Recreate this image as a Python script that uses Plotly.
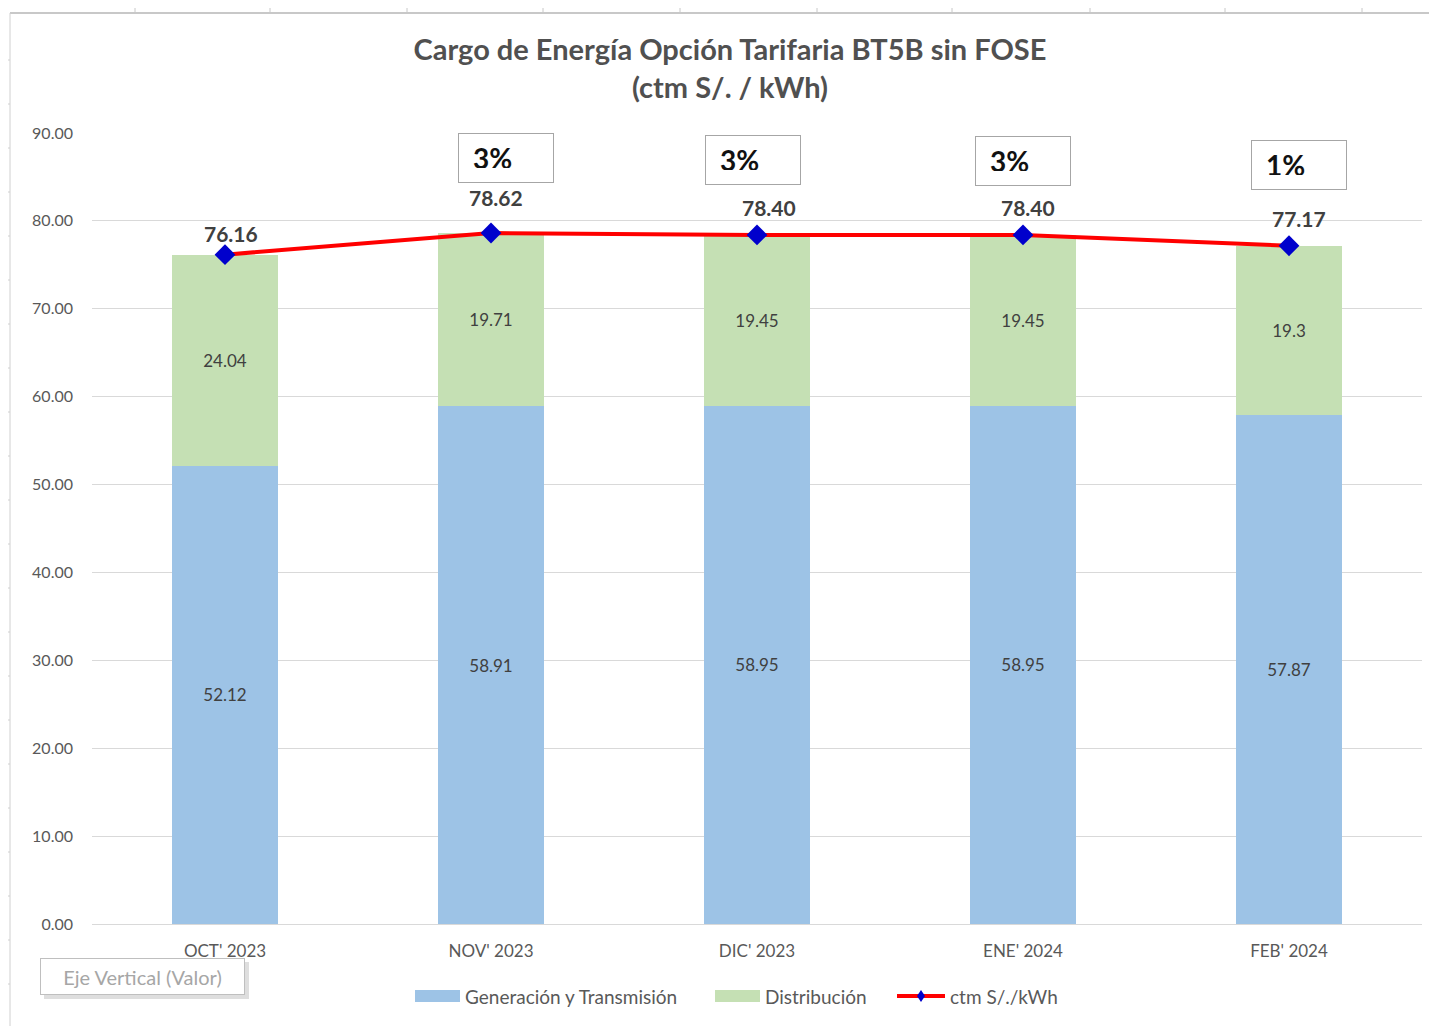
import plotly.graph_objects as go

categories = ["OCT' 2023", "NOV' 2023", "DIC' 2023", "ENE' 2024", "FEB' 2024"]
generacion = [52.12, 58.91, 58.95, 58.95, 57.87]
distribucion = [24.04, 19.71, 19.45, 19.45, 19.3]
total = [76.16, 78.62, 78.40, 78.40, 77.17]
pct_categories = ["NOV' 2023", "DIC' 2023", "ENE' 2024", "FEB' 2024"]
pct_labels = ["3%", "3%", "3%", "1%"]
y_ticks = [0, 10, 20, 30, 40, 50, 60, 70, 80, 90]
legend_names = ["Generación y Transmisión", "Distribución", "ctm S/./kWh"]

# page offset (body margin) and target geometry in screen pixels
OFF = 8
SW, SH = 1437, 1026
W, H = SW - OFF, SH - OFF
L, R, T, B = 92, 1422, 133, 924

def px(xs):
    return (xs - L) / (R - L)

def py(ys):
    return (B - ys) / (B - T)

FONT = "Lato"
GEN_C, DIS_C, LINE_C, MARK_C = "#9DC3E6", "#C5E0B4", "#FF0000", "#0000CC"

fig = go.Figure()
fig.add_trace(go.Bar(
    x=categories, y=generacion, name=legend_names[0],
    marker=dict(color=GEN_C, line=dict(width=0)),
    text=[str(v) for v in generacion], texttemplate="%{text}",
    textposition="inside", insidetextanchor="middle",
    textfont=dict(family=FONT, size=17, color="#404040"), textangle=0,
))
fig.add_trace(go.Bar(
    x=categories, y=distribucion, name=legend_names[1],
    marker=dict(color=DIS_C, line=dict(width=0)),
    text=[str(v) for v in distribucion], texttemplate="%{text}",
    textposition="inside", insidetextanchor="middle",
    textfont=dict(family=FONT, size=17, color="#404040"), textangle=0,
))
fig.add_trace(go.Scatter(
    x=categories, y=total, name=legend_names[2], mode="lines+markers",
    line=dict(color=LINE_C, width=4),
    marker=dict(symbol="diamond", size=16, color=MARK_C),
))

annotations = []
# line value labels (per-point offsets mimic the reference placement)
lab_dx = [6, 5, 12, 5, 10]
lab_dy = [21, 36, 27, 27, 27]
for c, t, dx, dy in zip(categories, total, lab_dx, lab_dy):
    annotations.append(dict(
        x=c, y=t, xref="x", yref="y", text=f"{t:.2f}", showarrow=False,
        xshift=dx, yshift=dy, yanchor="middle",
        font=dict(family=FONT, size=21, color="#404040", weight="bold"),
    ))
# percentage boxes
box_dx = [15, -4, 0, 10]
box_dy = [75, 75, 74, 81]
for c, lab, t, dx, dy in zip(pct_categories, pct_labels, total[1:], box_dx, box_dy):
    annotations.append(dict(
        x=c, y=t, xref="x", yref="y", text=lab, showarrow=False,
        xshift=dx, yshift=dy, yanchor="middle",
        font=dict(family=FONT, size=28, color="#111111", weight="bold"),
        align="left", width=66, height=20, borderpad=14,
        bordercolor="#A6A6A6", borderwidth=1, bgcolor="white",
    ))
# tooltip-like box
annotations.append(dict(
    x=px(142.5), y=py(976.5), xref="paper", yref="paper", xanchor="center", yanchor="middle",
    text="Eje Vertical (Valor)", showarrow=False,
    font=dict(family=FONT, size=20, color="#A6A6A6"),
    width=193, height=25, align="center",
    bordercolor="#BFBFBF", borderwidth=1, borderpad=5, bgcolor="white",
))

shapes = [
    dict(type="line", xref="paper", yref="paper", x0=px(10), x1=px(1437), y0=py(13), y1=py(13),
         line=dict(color="#C8C8C8", width=2)),
    dict(type="line", xref="paper", yref="paper", x0=px(10), x1=px(10), y0=py(13), y1=py(1026),
         line=dict(color="#D0D0D0", width=1)),
    dict(type="rect", xref="paper", yref="paper", x0=px(44), x1=px(249), y0=py(962), y1=py(999),
         line=dict(width=0), fillcolor="rgba(0,0,0,0.13)", layer="below"),
]
for tx in [135, 270, 407, 543, 680, 817, 952, 1090, 1225, 1362]:
    shapes.append(dict(type="line", xref="paper", yref="paper", x0=px(tx), x1=px(tx),
                       y0=py(13), y1=py(4), line=dict(color="#C8C8C8", width=1)))
for ty in range(60, 1026, 44):
    shapes.append(dict(type="line", xref="paper", yref="paper", x0=px(5), x1=px(10),
                       y0=py(ty), y1=py(ty), line=dict(color="#D0D0D0", width=1)))

# custom legend (wide swatches like the reference)
leg_y = 996
leg_items = [(415, 460, GEN_C, "rect"), (715, 760, DIS_C, "rect"), (897, 945, LINE_C, "line")]
for (x0, x1, col, kind), name in zip(leg_items, legend_names):
    if kind == "rect":
        shapes.append(dict(type="rect", xref="paper", yref="paper", x0=px(x0), x1=px(x1),
                           y0=py(leg_y + 6), y1=py(leg_y - 6), line=dict(width=0), fillcolor=col))
    else:
        shapes.append(dict(type="line", xref="paper", yref="paper", x0=px(x0), x1=px(x1),
                           y0=py(leg_y), y1=py(leg_y), line=dict(color=col, width=4)))
        shapes.append(dict(type="path", xref="paper", yref="paper",
                           path=f"M {px(921)} {py(leg_y - 6)} L {px(925)} {py(leg_y)} "
                                f"L {px(921)} {py(leg_y + 6)} L {px(917)} {py(leg_y)} Z",
                           fillcolor=MARK_C, line=dict(width=0)))
    annotations.append(dict(
        x=px(x1 + 3), y=py(leg_y), xref="paper", yref="paper", xanchor="left", yanchor="middle",
        text=name, showarrow=False, font=dict(family=FONT, size=19, color="#595959"),
    ))

fig.update_layout(
    width=W, height=H,
    margin=dict(l=L - OFF, r=SW - R, t=T - OFF, b=SH - B),
    paper_bgcolor="white", plot_bgcolor="white",
    barmode="stack", bargap=0.6,
    title=dict(text="<b>Cargo de Energía Opción Tarifaria BT5B sin FOSE<br>(ctm S/. / kWh)</b>",
               x=(730 - OFF) / W, xanchor="center", y=1 - (60 - OFF) / H, yanchor="top",
               yref="container", font=dict(family=FONT, size=29, color="#505050")),
    font=dict(family=FONT, color="#595959"),
    xaxis=dict(showgrid=False, showline=True, linecolor="#D9D9D9", linewidth=1,
               tickfont=dict(family=FONT, size=17, color="#595959"), ticks="",
               ticklabelstandoff=12, fixedrange=True),
    yaxis=dict(range=[0, 90], tickvals=y_ticks, tickformat=".2f", showgrid=True,
               gridcolor="#D9D9D9", gridwidth=1, zeroline=False, showline=False,
               tickfont=dict(family=FONT, size=16, color="#595959"), ticklabelstandoff=18),
    annotations=annotations, shapes=shapes,
    showlegend=False,
)

fig.write_html("out.html")
